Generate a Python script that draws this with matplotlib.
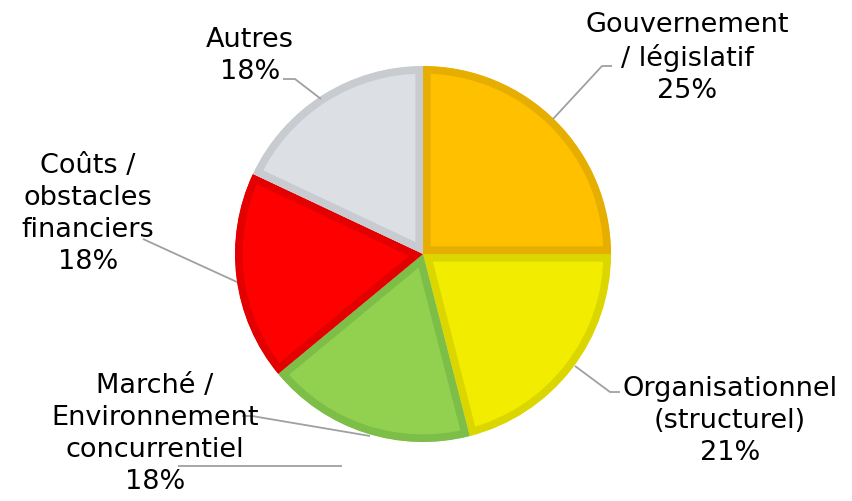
import matplotlib.pyplot as plt

# Données du graphique
categories = ['Gouvernement\n/ législatif', 'Organisationnel\n(structurel)',
              'Marché /\nEnvironnement\nconcurrentiel', 'Coûts /\nobstacles\nfinanciers',
              'Autres']
valeurs = [25, 21, 18, 18, 18]
couleurs = ['#FFC000', '#F2EC00', '#92D050', '#FF0000', '#DCE0E4']
bordures = ['#E6AE00', '#DCD600', '#7DBE48', '#E20000', '#C8CCD0']

# positions des étiquettes (pixels, origine en haut à gauche)
pos_labels = [(687, 58), (730, 421), (155, 434), (88, 214), (250, 56)]
# lignes de rappel
lignes = [
    [(612, 67), (602, 67), (553, 120)],
    [(620, 393), (610, 393), (575, 367)],
    [(242, 417), (252, 417), (370, 437)],
    [(143, 240), (237, 283)],
    [(283, 80), (295, 80), (321, 100)],
    [(178, 467), (342, 467)],
]

W, H = 853, 502
fig = plt.figure(figsize=(W / 100, H / 100), dpi=100)
ax = fig.add_axes([0, 0, 1, 1])

wedges, _ = ax.pie(valeurs, colors=couleurs, startangle=90, counterclock=False,
                   center=(423, H - 255), radius=188, frame=True,
                   wedgeprops=dict(linewidth=11))
# bordure intérieure : on coupe la moitié extérieure du trait
for w, b in zip(wedges, bordures):
    w.set_edgecolor(b)
    w.set_clip_on(True)
    w.set_clip_path(w)
ax.set_xlim(0, W)
ax.set_ylim(0, H)
ax.set_aspect('equal')
ax.axis('off')

for pts in lignes:
    xs = [p[0] for p in pts]
    ys = [H - p[1] for p in pts]
    ax.plot(xs, ys, color='#A0A0A0', lw=1.3, solid_capstyle='butt')

for cat, v, (x, y) in zip(categories, valeurs, pos_labels):
    ax.text(x, H - y, f'{cat}\n{v}%', ha='center', va='center', fontsize=19.5,
            linespacing=1.3, color='black', family='DejaVu Sans')

fig.savefig('out.png', dpi=100)
